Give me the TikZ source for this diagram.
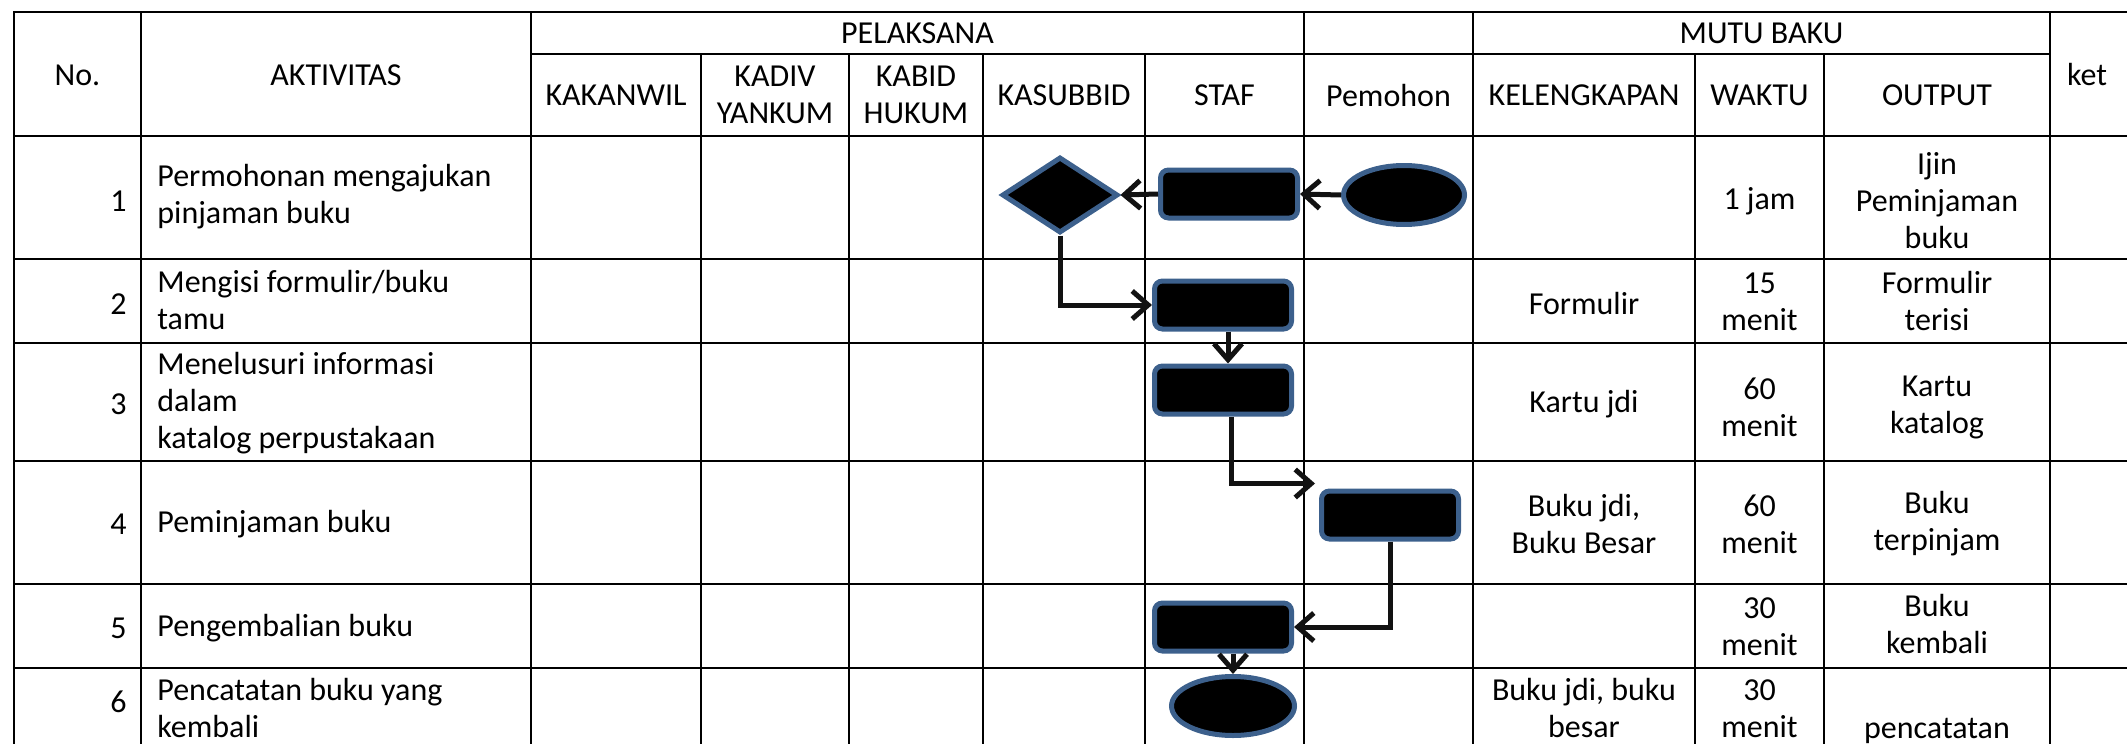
\documentclass[tikz,border=0pt]{standalone}
\usepackage{fontspec}
\setmainfont{Carlito}
\usetikzlibrary{shapes.geometric,arrows.meta}
\definecolor{shapeblue}{RGB}{60,96,140}
\begin{document}
\begin{tikzpicture}[x=0.5pt,y=-0.5pt,
  grid/.style={line width=1.4pt, line cap=rect},
  txt/.style={font=\fontsize{16}{18.5}\selectfont, inner sep=0pt, align=center},
  ltxt/.style={txt, align=left, anchor=west},
  num/.style={txt, anchor=east},
  proc/.style={draw=shapeblue, fill=black, line width=2.5pt, rounded corners=4pt,
    minimum width=68.5pt, minimum height=24pt, inner sep=0pt},
  term/.style={ellipse, draw=shapeblue, fill=black, line width=2.5pt,
    minimum width=60.5pt, minimum height=29.5pt, inner sep=0pt},
  dec/.style={diamond, draw=shapeblue, fill=black, line width=2.5pt,
    minimum width=58pt, minimum height=38pt, inner sep=0pt},
  arr/.style={-{Straight Barb[length=8pt,width=14pt]}, line width=2.5pt, color=black!93},
]
\useasboundingbox (0,0) rectangle (2127,744);
\clip (0,0) rectangle (2127,744);

% grid
\draw[grid] (14,12) -- (2140,12);
\draw[grid] (531,54) -- (2050,54);
\foreach \y in {136,259,343,461,584,668} \draw[grid] (14,\y) -- (2140,\y);
\foreach \x in {14,141,531,1304,1473,2050} \draw[grid] (\x,12) -- (\x,760);
\foreach \x in {701,849,983,1145,1695,1824} \draw[grid] (\x,54) -- (\x,760);

% header
\node[txt] (hno) at (77.5,75) {No.};
\node[txt] (hakt) at (336,75) {AKTIVITAS};
\node[txt] (hpel) at (917.5,33) {PELAKSANA};
\node[txt] (hkak) at (616,95) {KAKANWIL};
\node[txt] (hkad) at (775,95) {KADIV\\YANKUM};
\node[txt] (hkab) at (916,95) {KABID\\HUKUM};
\node[txt] (hkas) at (1064,95) {KASUBBID};
\node[txt] (hstaf) at (1224.5,95) {STAF};
\node[txt] (hpem) at (1388.5,95) {Pemohon};
\node[txt] (hmutu) at (1761.5,33) {MUTU BAKU};
\node[txt] (hkel) at (1584,95) {KELENGKAPAN};
\node[txt] (hwak) at (1759.5,95) {WAKTU};
\node[txt] (hout) at (1937,95) {OUTPUT};
\node[txt] (hket) at (2087,75) {ket};

% numbers
\node[num] (n1) at (127,201) {1};
\node[num] (n2) at (127,304) {2};
\node[num] (n3) at (127,404) {3};
\node[num] (n4) at (127,524) {4};
\node[num] (n5) at (127,628) {5};
\node[num] (n6) at (127,702) {6};

% activities
\node[ltxt] (a1) at (157,197) {Permohonan mengajukan\\pinjaman buku};
\node[ltxt] (a2) at (157,300) {Mengisi formulir/buku\\tamu};
\node[ltxt] (a3) at (157,403) {Menelusuri informasi\\dalam\\katalog perpustakaan};
\node[ltxt] (a4) at (157,524) {Peminjaman buku};
\node[ltxt] (a5) at (157,628) {Pengembalian buku};
\node[ltxt] (a6) at (157,708) {Pencatatan buku yang\\kembali};

% kelengkapan
\node[txt] (k2) at (1584,304) {Formulir};
\node[txt] (k3) at (1584,404) {Kartu jdi};
\node[txt] (k4) at (1584,524) {Buku jdi,\\Buku Besar};
\node[txt] (k6) at (1584,708) {Buku jdi, buku\\besar};

% waktu
\node[txt] (w1) at (1759.5,201) {1 jam};
\node[txt] (w2) at (1759.5,302) {15\\menit};
\node[txt] (w3) at (1759.5,407) {60\\menit};
\node[txt] (w4) at (1759.5,524) {60\\menit};
\node[txt] (w5) at (1759.5,627) {30\\menit};
\node[txt] (w6) at (1759.5,709) {30\\menit};

% output
\node[txt] (o1) at (1937,201) {Ijin\\Peminjaman\\buku};
\node[txt] (o2) at (1937,301) {Formulir\\terisi};
\node[txt] (o3) at (1937,407) {Kartu\\katalog};
\node[txt] (o4) at (1937,524) {Buku\\terpinjam};
\node[txt] (o5) at (1937,624) {Buku\\kembali};
\node[txt] (o6) at (1937,731) {pencatatan};

% flow shapes
\node[dec] (d1) at (1060,195) {};
\node[proc] (r1) at (1229,194) {};
\node[term] (e1) at (1404,195) {};
\node[proc] (r2) at (1223,305) {};
\node[proc] (r3) at (1223,390) {};
\node[proc] (r4) at (1390,515) {};
\node[proc] (r5) at (1223,627) {};
\node[term, minimum width=61.5pt] (e2) at (1233,706) {};

% connectors
\draw[arr] (e1.west) -- (r1.east);
\draw[arr] (r1.west) -- (d1.east);
\draw[arr] (d1.south) |- (r2.west);
\draw[arr] ([xshift=2.5pt]r2.south) -- ([xshift=2.5pt]r3.north);
\coordinate (r4in) at ([shift={(-2pt,2.5pt)}]r4.north west);
\draw[arr] ([xshift=4pt]r3.south) |- (r4in);
\draw[arr] (r4.south) |- (r5.east);
\draw[arr] (e2.north |- r5.south) -- (e2.north);
\end{tikzpicture}
\end{document}
